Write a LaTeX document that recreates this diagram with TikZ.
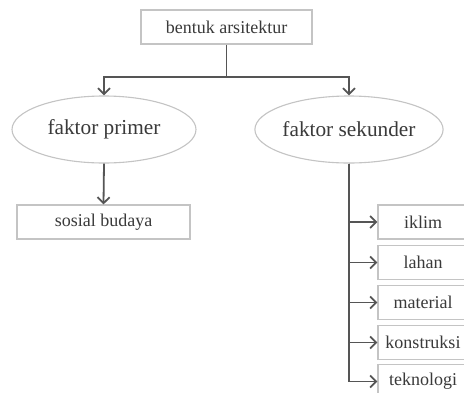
\documentclass[tikz,border=0pt]{standalone}
\usepackage{fontspec}
\setmainfont{Liberation Serif}
\usetikzlibrary{shapes.geometric,arrows.meta}
\definecolor{txt}{HTML}{3A3A3A}
\definecolor{ln}{HTML}{555555}
\definecolor{bd}{HTML}{C4C4C4}
\tikzset{
  box/.style={draw=bd,line width=1.1pt,rectangle,inner sep=0pt,text=txt,font=\fontsize{18}{20}\selectfont},
  oval/.style={draw=bd,line width=1.1pt,ellipse,inner sep=0pt,minimum width=184pt,minimum height=67pt,text=txt,font=\fontsize{21.3}{24}\selectfont},
  conn/.style={draw=ln,line width=1.8pt},
  arr/.style={conn,-{Straight Barb[length=6pt,width=12pt,line width=1.8pt]}},
}
\begin{document}
\begin{tikzpicture}[x=1pt,y=-1pt]
\useasboundingbox (0,0) rectangle (464,392);
\clip (0,0) rectangle (464,392);
\fill[white] (0,0) rectangle (464,392);
\node[box,minimum width=171pt,minimum height=34pt] (ba) at (226.5,27) {bentuk arsitektur};
\node[oval] (fp) at (104,129.5) {faktor primer};
\node[oval] (fs) at (349,129.5) {faktor sekunder};
\node[box,minimum width=173pt,minimum height=34pt] (sb) at (103.5,222) {sosial budaya};
\node[box,minimum width=90pt,minimum height=34pt] (ik) at (423,222) {iklim};
\node[box,minimum width=90pt,minimum height=34pt] (la) at (423,262.5) {lahan};
\node[box,minimum width=90pt,minimum height=34pt] (ma) at (423,302.5) {material};
\node[box,minimum width=90pt,minimum height=34pt] (ko) at (423,342.5) {konstruksi};
\node[box,minimum width=90pt,minimum height=34pt] (te) at (423,381.5) {teknologi};
\coordinate (split) at (226.5,77);
\draw[conn] (ba.south) -- (split);
\draw[arr] (split) -| (fp.north);
\draw[arr] (split) -| (fs.north);
\draw[arr] (fp.south) -- (sb.north);
\draw[arr] (fs.south) |- (ik.west);
\draw[arr] (fs.south) |- (la.west);
\draw[arr] (fs.south) |- (ma.west);
\draw[arr] (fs.south) |- (ko.west);
\draw[arr] (fs.south) |- (te.west);
\end{tikzpicture}
\end{document}
